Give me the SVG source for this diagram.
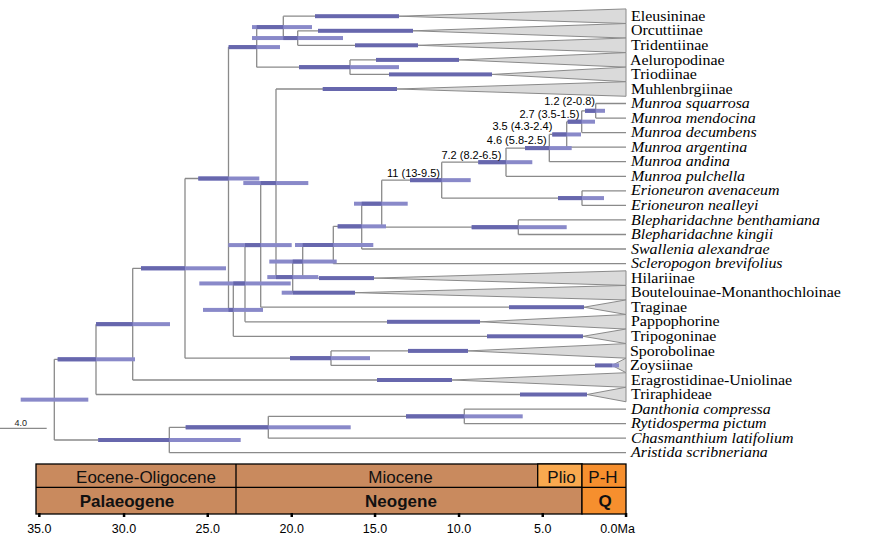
<svg xmlns="http://www.w3.org/2000/svg" width="883" height="543" viewBox="0 0 883 543">
<style>
.br{fill:none;stroke:#8a8a8a;stroke-width:1.3}
.tri{fill:#dadada;stroke:#8a8a8a;stroke-width:1}
.bl{fill:#8989c9}
.bd{fill:#6767ad}
.tip{font-family:"Liberation Serif","Times New Roman",serif;font-size:14.5px;fill:#000}
.it{font-style:italic}
.nl{font-family:"Liberation Sans",Arial,sans-serif;font-size:11px;text-anchor:end;fill:#000}
.ts{font-family:"Liberation Sans",Arial,sans-serif;font-size:17px;text-anchor:middle;fill:#111}
.b{font-weight:bold}
.ax{font-family:"Liberation Sans",Arial,sans-serif;font-size:12.5px;text-anchor:middle;fill:#000}
.cell{stroke:#000;stroke-width:1.3}
</style>
<rect width="883" height="543" fill="#fff"/>

<!-- collapsed clade triangles -->
<g id="clades">
<g id="tri-Eleusininae"><polygon class="tri" points="399,16.2 626,8.93 626,23.47"/></g>
<g id="tri-Orcuttiinae"><polygon class="tri" points="413,30.8 626,23.53 626,38.07"/></g>
<g id="tri-Tridentiinae"><polygon class="tri" points="418,45.3 626,38.03 626,52.57"/></g>
<g id="tri-Aeluropodinae"><polygon class="tri" points="459,59.9 626,52.63 626,67.17"/></g>
<g id="tri-Triodiinae"><polygon class="tri" points="492,74.4 626,67.13 626,81.67"/></g>
<g id="tri-Muhlenbrgiinae"><polygon class="tri" points="397,89 626,81.73 626,96.27"/></g>
<g id="tri-Hilariinae"><polygon class="tri" points="374,278.1 626,270.83 626,285.37"/></g>
<g id="tri-Boutelouinae"><polygon class="tri" points="355,292.7 626,285.43 626,299.97"/></g>
<g id="tri-Traginae"><polygon class="tri" points="584,307.2 626,299.93 626,314.47"/></g>
<g id="tri-Pappophorine"><polygon class="tri" points="480,321.8 626,314.53 626,329.07"/></g>
<g id="tri-Tripogoninae"><polygon class="tri" points="583,336.3 626,329.03 626,343.57"/></g>
<g id="tri-Sporobolinae"><polygon class="tri" points="468,350.9 626,343.63 626,358.17"/></g>
<g id="tri-Zoysiinae"><polygon class="tri" points="612,365.4 626,358.13 626,372.67"/></g>
<g id="tri-Eragrostidinae"><polygon class="tri" points="452,380 626,372.73 626,387.27"/></g>
<g id="tri-Triraphideae"><polygon class="tri" points="587,394.5 626,387.23 626,401.77"/></g>
</g>

<g id="connectors">
<path class="br" d="M54.3 359.3V440M96 324.15V394.5M132.7 268.3V380M185 178.5V358.15M228.5 47.1V309.9M256.7 27.1V67.15M283.3 16.2V38.05M297.7 30.8V45.3M350 59.9V74.4M233.3 283.45V336.3M245 245.1V321.8M260.7 183.05V307.2M276 89V277.1M292.7 261.55V292.7M302.7 245V278.1M333.3 226.35V263.6M361.7 203.7V249M381.7 180.15V227.2M518.3 219.9V234.5M441.7 162.2V198.1M582 190.8V205.4M506 148.1V176.3M549.3 134.45V161.7M566.7 121.7V147.2M581.7 110.8V132.6M595.7 103.5V118.1M331 350.9V365.4M169.3 427.3V452.7M268.3 416.35V438.2M464.3 409.1V423.6"/>
<path class="br" d="M54.3 359.3H96M54.3 440H169.3M96 324.15H132.7M96 394.5H587M132.7 268.3H185M132.7 380H452M185 178.5H228.5M185 358.15H331M228.5 47.1H256.7M228.5 309.9H233.3M256.7 27.1H283.3M256.7 67.15H350M283.3 16.2H399M283.3 38.05H297.7M297.7 30.8H413M297.7 45.3H418M350 59.9H459M350 74.4H492M233.3 283.45H245M233.3 336.3H583M245 245.1H260.7M245 321.8H480M260.7 183.05H276M260.7 307.2H584M276 89H397M276 277.1H292.7M292.7 261.55H302.7M292.7 292.7H355M302.7 245H333.3M302.7 278.1H374M333.3 226.35H361.7M333.3 263.6H626M361.7 203.7H381.7M361.7 249H626M381.7 180.15H441.7M381.7 227.2H518.3M518.3 219.9H626M518.3 234.5H626M441.7 162.2H506M441.7 198.1H582M582 190.8H626M582 205.4H626M506 148.1H549.3M506 176.3H626M549.3 134.45H566.7M549.3 161.7H626M566.7 121.7H581.7M566.7 147.2H626M581.7 110.8H595.7M581.7 132.6H626M595.7 103.5H626M595.7 118.1H626M331 350.9H468M331 365.4H612M169.3 427.3H268.3M169.3 452.7H626M268.3 416.35H464.3M268.3 438.2H626M464.3 409.1H626M464.3 423.6H626"/>
<path class="br" d="M0 428.3H46.7"/>
</g>

<g id="hpd-bars">
<rect class="bl" x="252" y="25.1" width="60" height="4"/><rect class="bd" x="256.7" y="25.1" width="26.6" height="4"/>
<rect class="bl" x="252" y="36.05" width="91" height="4"/><rect class="bd" x="283.3" y="36.05" width="14.4" height="4"/>
<rect class="bl" x="228.7" y="45.1" width="51.3" height="4"/><rect class="bd" x="228.7" y="45.1" width="28" height="4"/>
<rect class="bl" x="299" y="65.15" width="100" height="4"/><rect class="bd" x="299" y="65.15" width="51" height="4"/>
<rect class="bl" x="198.3" y="176.5" width="61" height="4"/><rect class="bd" x="198.3" y="176.5" width="30.2" height="4"/>
<rect class="bl" x="243.3" y="181.05" width="65" height="4"/><rect class="bd" x="260.7" y="181.05" width="15.3" height="4"/>
<rect class="bl" x="228.3" y="243.1" width="63.4" height="4"/><rect class="bd" x="245" y="243.1" width="15.7" height="4"/>
<rect class="bl" x="295" y="243" width="78.3" height="4"/><rect class="bd" x="302.7" y="243" width="30.6" height="4"/>
<rect class="bl" x="199.3" y="281.45" width="91.4" height="4"/><rect class="bd" x="233.3" y="281.45" width="11.7" height="4"/>
<rect class="bl" x="203" y="307.9" width="60" height="4"/><rect class="bd" x="228.5" y="307.9" width="4.8" height="4"/>
<rect class="bl" x="267.3" y="275.1" width="51" height="4"/><rect class="bd" x="276" y="275.1" width="16.7" height="4"/>
<rect class="bl" x="269.3" y="259.55" width="67.4" height="4"/><rect class="bd" x="292.7" y="259.55" width="10" height="4"/>
<rect class="bl" x="337.7" y="224.35" width="48.3" height="4"/><rect class="bd" x="337.7" y="224.35" width="24" height="4"/>
<rect class="bl" x="354" y="201.7" width="53.7" height="4"/><rect class="bd" x="361.7" y="201.7" width="20" height="4"/>
<rect class="bl" x="410" y="178.15" width="60.7" height="4"/><rect class="bd" x="410" y="178.15" width="31.7" height="4"/>
<rect class="bl" x="478.3" y="160.2" width="54" height="4"/><rect class="bd" x="478.3" y="160.2" width="27.7" height="4"/>
<rect class="bl" x="525" y="146.1" width="46.7" height="4"/><rect class="bd" x="525" y="146.1" width="24.3" height="4"/>
<rect class="bl" x="552.3" y="132.45" width="28.7" height="4"/><rect class="bd" x="552.3" y="132.45" width="14.4" height="4"/>
<rect class="bl" x="567.7" y="119.7" width="27.3" height="4"/><rect class="bd" x="567.7" y="119.7" width="14" height="4"/>
<rect class="bl" x="585" y="108.8" width="20" height="4"/><rect class="bd" x="585" y="108.8" width="10.7" height="4"/>
<rect class="bl" x="558" y="196.1" width="46" height="4"/><rect class="bd" x="558" y="196.1" width="24" height="4"/>
<rect class="bl" x="471.7" y="225.2" width="95" height="4"/><rect class="bd" x="471.7" y="225.2" width="46.6" height="4"/>
<rect class="bl" x="290" y="356.15" width="80" height="4"/><rect class="bd" x="290" y="356.15" width="41" height="4"/>
<rect class="bl" x="141" y="266.3" width="85" height="4"/><rect class="bd" x="141" y="266.3" width="44" height="4"/>
<rect class="bl" x="96" y="322.15" width="74" height="4"/><rect class="bd" x="96" y="322.15" width="36.7" height="4"/>
<rect class="bl" x="57.7" y="357.3" width="77.3" height="4"/><rect class="bd" x="57.7" y="357.3" width="38.3" height="4"/>
<rect class="bl" x="20.7" y="397.65" width="67.6" height="4"/>
<rect class="bl" x="98.3" y="438" width="142.4" height="4"/><rect class="bd" x="98.3" y="438" width="71" height="4"/>
<rect class="bl" x="185.7" y="425.3" width="165" height="4"/><rect class="bd" x="185.7" y="425.3" width="82.6" height="4"/>
<rect class="bl" x="406" y="414.35" width="116.7" height="4"/><rect class="bd" x="406" y="414.35" width="58.3" height="4"/>
<!-- clade stem bars -->
<rect class="bd" x="315" y="14.2" width="84" height="4"/>
<rect class="bd" x="318" y="28.8" width="95" height="4"/>
<rect class="bd" x="355" y="43.3" width="63" height="4"/>
<rect class="bd" x="376" y="57.9" width="83" height="4"/>
<rect class="bd" x="389" y="72.4" width="103" height="4"/>
<rect class="bd" x="322.7" y="87" width="74.3" height="4"/>
<rect class="bd" x="319" y="276.1" width="55" height="4"/>
<rect class="bl" x="281.7" y="290.7" width="11" height="4"/><rect class="bd" x="292.7" y="290.7" width="62.3" height="4"/>
<rect class="bd" x="509" y="305.2" width="75" height="4"/>
<rect class="bd" x="387" y="319.8" width="93" height="4"/>
<rect class="bd" x="487" y="334.3" width="96" height="4"/>
<rect class="bd" x="408" y="348.9" width="60" height="4"/>
<rect class="bd" x="595" y="363.4" width="17" height="4"/><rect class="bl" x="612" y="363.4" width="7" height="4"/>
<rect class="bd" x="377" y="378" width="75" height="4"/>
<rect class="bd" x="520" y="392.5" width="67" height="4"/>
</g>

<g id="tips" transform="translate(631 0) scale(1.1 1)">
<g id="t0"><text class="tip" x="0" y="20.9">Eleusininae</text></g>
<g id="t1"><text class="tip" x="0" y="35.5">Orcuttiinae</text></g>
<g id="t2"><text class="tip" x="0" y="50">Tridentiinae</text></g>
<g id="t3"><text class="tip" x="-1" y="64.6">Aeluropodinae</text></g>
<g id="t4"><text class="tip" x="0" y="79.1">Triodiinae</text></g>
<g id="t5"><text class="tip" x="0" y="93.7">Muhlenbrgiinae</text></g>
<g id="t6"><text class="tip it" x="0" y="108.2">Munroa squarrosa</text></g>
<g id="t7"><text class="tip it" x="0" y="122.8">Munroa mendocina</text></g>
<g id="t8"><text class="tip it" x="0" y="137.3">Munroa decumbens</text></g>
<g id="t9"><text class="tip it" x="0" y="151.9">Munroa argentina</text></g>
<g id="t10"><text class="tip it" x="0" y="166.4">Munroa andina</text></g>
<g id="t11"><text class="tip it" x="0" y="181">Munroa pulchella</text></g>
<g id="t12"><text class="tip it" x="0" y="195.5">Erioneuron avenaceum</text></g>
<g id="t13"><text class="tip it" x="0" y="210.1">Erioneuron nealleyi</text></g>
<g id="t14"><text class="tip it" x="0" y="224.6">Blepharidachne benthamiana</text></g>
<g id="t15"><text class="tip it" x="0" y="239.2">Blepharidachne kingii</text></g>
<g id="t16"><text class="tip it" x="0" y="253.7">Swallenia alexandrae</text></g>
<g id="t17"><text class="tip it" x="0" y="268.3">Scleropogon brevifolius</text></g>
<g id="t18"><text class="tip" x="0" y="282.8">Hilariinae</text></g>
<g id="t19"><text class="tip" x="0" y="297.4">Boutelouinae-Monanthochloinae</text></g>
<g id="t20"><text class="tip" x="0" y="311.9">Traginae</text></g>
<g id="t21"><text class="tip" x="0" y="326.5">Pappophorine</text></g>
<g id="t22"><text class="tip" x="0" y="341">Tripogoninae</text></g>
<g id="t23"><text class="tip" x="-1" y="355.6">Sporobolinae</text></g>
<g id="t24"><text class="tip" x="-1" y="370.1">Zoysiinae</text></g>
<g id="t25"><text class="tip" x="0" y="384.7">Eragrostidinae-Uniolinae</text></g>
<g id="t26"><text class="tip" x="0" y="399.2">Triraphideae</text></g>
<g id="t27"><text class="tip it" x="0" y="413.8">Danthonia compressa</text></g>
<g id="t28"><text class="tip it" x="0" y="428.3">Rytidosperma pictum</text></g>
<g id="t29"><text class="tip it" x="0" y="442.9">Chasmanthium latifolium</text></g>
<g id="t30"><text class="tip it" x="0" y="457.4">Aristida scribneriana</text></g>
</g>

<g id="node-labels">
<g id="nl-U"><text class="nl" x="595" y="105">1.2 (2-0.8)</text></g>
<g id="nl-T"><text class="nl" x="579.3" y="117.5">2.7 (3.5-1.5)</text></g>
<g id="nl-S"><text class="nl" x="552.3" y="130">3.5 (4.3-2.4)</text></g>
<g id="nl-R"><text class="nl" x="546.7" y="144">4.6 (5.8-2.5)</text></g>
<g id="nl-Q"><text class="nl" x="501.3" y="159.3">7.2 (8.2-6.5)</text></g>
<g id="nl-P"><text class="nl" x="440" y="177.3">11 (13-9.5)</text></g>
<g id="scale"><text x="20.8" y="425.5" font-family="Liberation Sans, Arial, sans-serif" font-size="9" text-anchor="middle" fill="#222">4.0</text></g>
</g>

<g id="timescale">
<rect class="cell" x="36" y="464" width="546" height="50" fill="#c98a5e"/>
<rect class="cell" x="537.7" y="464" width="44.3" height="23.3" fill="#f9a94f"/>
<rect class="cell" x="582" y="464" width="44" height="50" fill="#f68f2e"/>
<path d="M36 487.3H626M236 464V514" stroke="#000" stroke-width="1.3" fill="none"/>
<text class="ts" x="146" y="483">Eocene-Oligocene</text>
<text class="ts" x="400.5" y="483">Miocene</text>
<text class="ts" x="561.5" y="483">Plio</text>
<text class="ts" x="603" y="483">P-H</text>
<text class="ts b" x="127" y="507">Palaeogene</text>
<text class="ts b" x="401" y="507">Neogene</text>
<text class="ts b" x="605" y="507">Q</text>
<g fill="#000">
<rect x="38.1" y="513" width="2.5" height="4"/>
<rect x="122.8" y="513" width="2.5" height="4"/>
<rect x="206.5" y="513" width="2.5" height="4"/>
<rect x="290.5" y="513" width="2.5" height="4"/>
<rect x="373.8" y="513" width="2.5" height="4"/>
<rect x="457.8" y="513" width="2.5" height="4"/>
<rect x="541.5" y="513" width="2.5" height="4"/>
<rect x="624.8" y="513" width="2.5" height="4"/>
</g>
<text class="ax" x="39.3" y="533">35.0</text>
<text class="ax" x="124" y="533">30.0</text>
<text class="ax" x="207.7" y="533">25.0</text>
<text class="ax" x="291.7" y="533">20.0</text>
<text class="ax" x="375" y="533">15.0</text>
<text class="ax" x="459" y="533">10.0</text>
<text class="ax" x="542.7" y="533">5.0</text>
<text class="ax" x="617.5" y="533" text-anchor="start">0.0Ma</text>
</g>
</svg>
